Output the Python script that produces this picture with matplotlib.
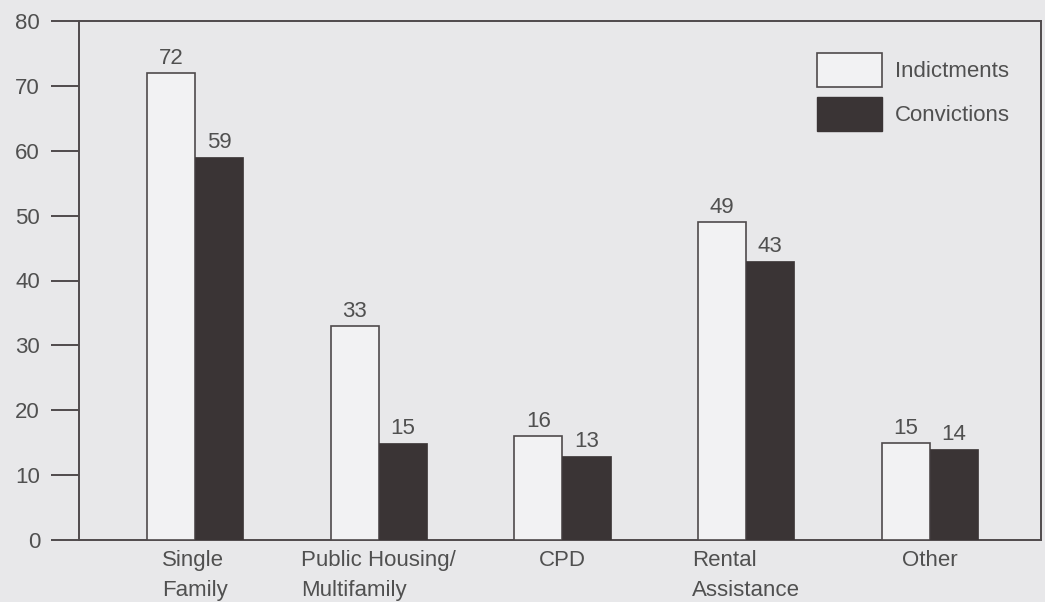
import numpy as np
from matplotlib import pyplot as plt
from matplotlib.patches import Patch

plt.rcParams['font.family'] = ['Liberation Sans', 'DejaVu Sans']

# Case counts by program area
categories = ['Single\nFamily', 'Public Housing/\nMultifamily', 'CPD',
              'Rental\nAssistance', 'Other']
indictments = [72, 33, 16, 49, 15]
convictions = [59, 15, 13, 43, 14]
series_names = ['Indictments', 'Convictions']
y_ticks = [0, 10, 20, 30, 40, 50, 60, 70, 80]

bg = '#e8e8ea'
ink = '#4f4a4c'
txt = '#505050'
dark = '#3a3435'
light = '#f2f2f3'
fs = 16

fig = plt.figure(figsize=(10.45, 6.02), dpi=100, facecolor=bg)
ax = fig.add_axes([79 / 1045, 62 / 602, (1041 - 79) / 1045, (540 - 21) / 602])
ax.set_facecolor(bg)

x = np.arange(len(categories))
w = 0.262

b1 = ax.bar(x - w / 2, indictments, w, color=light, edgecolor=ink,
            linewidth=1.2, zorder=3)
b2 = ax.bar(x + w / 2, convictions, w, color=dark, edgecolor=dark,
            linewidth=0.5, zorder=3)

for bars, vals in ((b1, indictments), (b2, convictions)):
    for rect, v in zip(bars, vals):
        ax.annotate(str(v), (rect.get_x() + rect.get_width() / 2, v),
                    xytext=(0, 6.5), textcoords='offset points',
                    ha='center', va='baseline', fontsize=fs, color=txt)

ax.set_xlim(-0.631, 4.604)
ax.set_ylim(0, 80)
ax.set_yticks(y_ticks)
ax.tick_params(axis='y', direction='out', length=20, width=1.4, color=ink,
               labelsize=fs, labelcolor=txt, pad=8)
ax.set_xticks(x)
ax.set_xticklabels(categories, fontsize=fs, color=txt, multialignment='left',
                   linespacing=1.6)
ax.tick_params(axis='x', length=0, pad=7)

for side in ('left', 'top', 'bottom', 'right'):
    ax.spines[side].set_color(ink)
    ax.spines[side].set_linewidth(1.4)

# legend swatches: 65 x 34 px boxes
handles = [Patch(facecolor=light, edgecolor=ink, linewidth=1.2),
           Patch(facecolor=dark, edgecolor=dark)]
leg = ax.legend(handles, series_names, loc='upper left',
                bbox_to_anchor=(817 / 1045, 1 - 53 / 602),
                bbox_transform=fig.transFigure, frameon=False,
                fontsize=fs, handlelength=2.93, handleheight=1.98,
                labelspacing=0.45, handletextpad=0.59, borderpad=0,
                borderaxespad=0)
for t in leg.get_texts():
    t.set_color(txt)

fig.savefig('out.png', dpi=100, facecolor=bg)
